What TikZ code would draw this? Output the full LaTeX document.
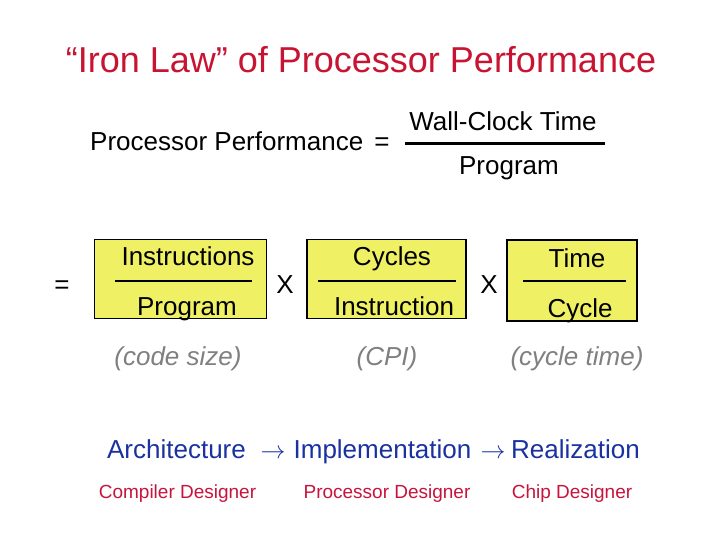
\documentclass[tikz,border=0pt]{standalone}
\usepackage{fontspec}
\setmainfont{Liberation Sans}
\usepackage{xcolor}
\definecolor{boxyellow}{RGB}{240,240,100}
\definecolor{titlered}{RGB}{200,20,50}
\definecolor{notegray}{RGB}{128,128,128}
\definecolor{levelblue}{RGB}{25,50,160}
\definecolor{designred}{RGB}{200,20,60}

\begin{document}
\begin{tikzpicture}[x=1pt, y=-1pt,
    titletext/.style={font=\fontsize{36}{40}\selectfont, text=titlered, inner sep=0pt, anchor=base},
    bigtext/.style={font=\fontsize{26}{30}\selectfont, inner sep=0pt, anchor=base},
    notetext/.style={font=\fontsize{26}{30}\selectfont\itshape, text=notegray, inner sep=0pt, anchor=base},
    fracbox/.style={draw=black, line width=1.3pt, fill=boxyellow},
    fracbar/.style={draw=black, line width=2.7pt},
    leveltext/.style={font=\fontsize{26}{30}\selectfont, text=levelblue, inner sep=0pt, anchor=base},
    designtext/.style={font=\fontsize{19}{22}\selectfont, text=designred, inner sep=0pt, anchor=base}
]

% Background
\useasboundingbox (0,0) rectangle (720,540);
\fill[white] (0,0) rectangle (720,540);

% Title
\node[titletext] (title) at (361,73) {“Iron Law” of Processor Performance};

% 1. DEFINITION
\node[bigtext, anchor=base west] (perf) at (90,151) {Processor Performance};
\node[bigtext] (perfeq) at (382,151) {=};
\node[bigtext] (wall) at (503,131) {Wall-Clock Time};
\node[bigtext] (wallprog) at (509,175) {Program};
\coordinate (wallbarl) at (405,143.5);
\coordinate (wallbarr) at (605,143.5);
\draw[fracbar] (wallbarl) -- (wallbarr);

% 2. THREE FACTORS
\node[bigtext] (facteq) at (62,293) {=};

% Instructions / Program
\node[fracbox, minimum width=172pt, minimum height=79pt] (ipbox) at (180.5,279) {};
\node[bigtext] (ipnum) at (188,265) {Instructions};
\node[bigtext] (ipden) at (187,315) {Program};
\coordinate (ipbarl) at (115,281);
\coordinate (ipbarr) at (252,281);
\draw[fracbar] (ipbarl) -- (ipbarr);

\node[bigtext] (times1) at (285,293) {X};

% Cycles / Instruction
\node[fracbox, minimum width=159pt, minimum height=79pt] (cibox) at (386.5,279) {};
\node[bigtext] (cinum) at (392,265) {Cycles};
\node[bigtext] (ciden) at (394,315) {Instruction};
\coordinate (cibarl) at (318,281);
\coordinate (cibarr) at (456,281);
\draw[fracbar] (cibarl) -- (cibarr);

\node[bigtext] (times2) at (489,293) {X};

% Time / Cycle
\node[fracbox, minimum width=130pt, minimum height=81pt] (tcbox) at (572,280.5) {};
\node[bigtext] (tcnum) at (577,267) {Time};
\node[bigtext] (tcden) at (580,317) {Cycle};
\coordinate (tcbarl) at (523,281);
\coordinate (tcbarr) at (626,281);
\draw[fracbar] (tcbarl) -- (tcbarr);

% Factor names
\node[notetext] (codesize) at (178,365) {(code size)};
\node[notetext] (cpi) at (387,365) {(CPI)};
\node[notetext] (cycletime) at (577,365) {(cycle time)};

% 3. LEVELS
\node[leveltext] (arch) at (176.5,458) {Architecture};
\node[leveltext] (arrow1) at (273,458) {$\rightarrow$};
\node[leveltext] (impl) at (382.5,458) {Implementation};
\node[leveltext] (arrow2) at (493,458) {$\rightarrow$};
\node[leveltext] (real) at (575.5,458) {Realization};

% Designers
\node[designtext] (compd) at (177.5,498.5) {Compiler Designer};
\node[designtext] (procd) at (387,498.5) {Processor Designer};
\node[designtext] (chipd) at (572,498.5) {Chip Designer};

\end{tikzpicture}
\end{document}
